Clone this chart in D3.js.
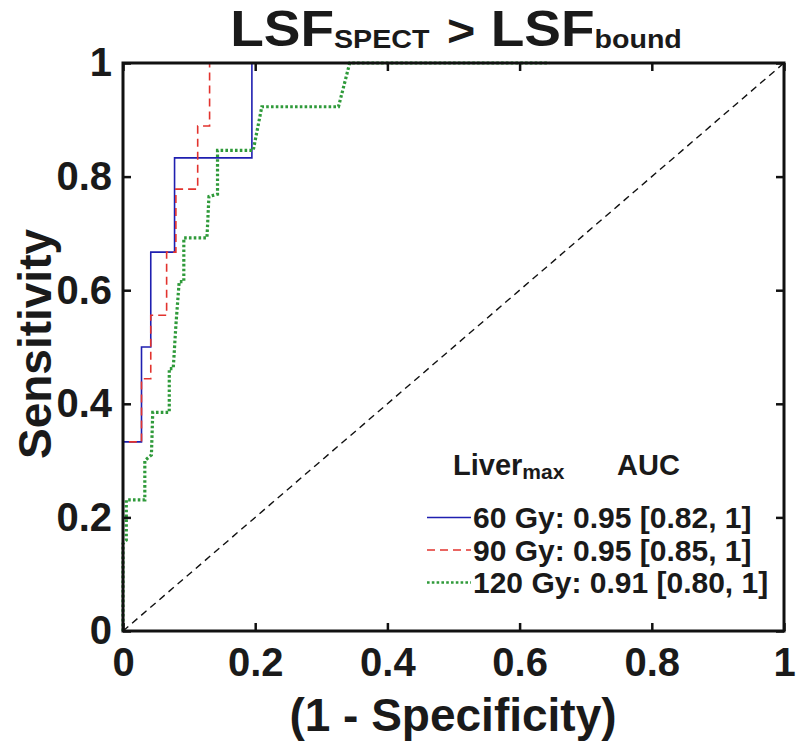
<!DOCTYPE html>
<html>
<head>
<meta charset="utf-8">
<script src="https://cdn.jsdelivr.net/npm/d3@7"></script>
<style>
  html, body { margin: 0; padding: 0; background: #fff; }
  svg { display: block; }
  text { font-family: "Liberation Sans", Arial, Helvetica, sans-serif; font-weight: bold; fill: #1a1a1a; }
</style>
</head>
<body>
<svg id="chart" width="800" height="748"></svg>
<script>
// ---- data ----
const tickValues = [0, 0.2, 0.4, 0.6, 0.8, 1];
const tickLabels = ["0", "0.2", "0.4", "0.6", "0.8", "1"];

const seriesNames = ["60 Gy", "90 Gy", "120 Gy"];
const aucLabels = ["0.95 [0.82, 1]", "0.95 [0.85, 1]", "0.91 [0.80, 1]"];

const fpr60 = [0, 0, 0.028, 0.028, 0.042, 0.042, 0.078, 0.078, 0.195, 0.195, 1];
const tpr60 = [0, 0.333, 0.333, 0.5, 0.5, 0.667, 0.667, 0.833, 0.833, 1, 1];

const fpr90 = [0, 0, 0.028, 0.028, 0.042, 0.042, 0.066, 0.066, 0.080, 0.080, 0.113, 0.113, 0.131, 0.131, 1];
const tpr90 = [0, 0.333, 0.333, 0.444, 0.444, 0.556, 0.556, 0.667, 0.667, 0.778, 0.778, 0.889, 0.889, 1, 1];

const fpr120 = [0, 0, 0.005, 0.005, 0.033, 0.033, 0.043, 0.045, 0.070, 0.070, 0.076, 0.080, 0.085, 0.092, 0.092, 0.127, 0.130, 0.143, 0.143, 0.197, 0.210, 0.326, 0.343, 0.645];
const tpr120 = [0, 0.154, 0.160, 0.231, 0.231, 0.300, 0.310, 0.385, 0.385, 0.462, 0.462, 0.538, 0.615, 0.615, 0.692, 0.692, 0.765, 0.769, 0.846, 0.846, 0.923, 0.923, 1, 1];

const chanceX = [0, 1];
const chanceY = [0, 1];

// ---- layout ----
const svg = d3.select("#chart");
const L = 123, R = 784, T = 63, B = 631;
const x = d3.scaleLinear().domain([0, 1]).range([L, R]);
const y = d3.scaleLinear().domain([0, 1]).range([B, T]);

const styles = [
  { color: "#1f1fb0", width: 1.6, dash: null },
  { color: "#e2332e", width: 1.6, dash: "8,5" },
  { color: "#2f9a3a", width: 3.2, dash: "2.6,2.2" }
];
const series = [
  fpr60.map((v, i) => [v, tpr60[i]]),
  fpr90.map((v, i) => [v, tpr90[i]]),
  fpr120.map((v, i) => [v, tpr120[i]])
];

const line = d3.line().x(d => x(d[0])).y(d => y(d[1]));

// chance line
svg.append("path")
  .datum(chanceX.map((v, i) => [v, chanceY[i]]))
  .attr("d", line)
  .attr("fill", "none")
  .attr("stroke", "#111")
  .attr("stroke-width", 1.4)
  .attr("stroke-dasharray", "7,5");

series.forEach((s, i) => {
  const p = svg.append("path")
    .datum(s)
    .attr("d", line)
    .attr("fill", "none")
    .attr("stroke", styles[i].color)
    .attr("stroke-width", styles[i].width);
  if (styles[i].dash) p.attr("stroke-dasharray", styles[i].dash);
});

// axes
const fmt = (d) => tickLabels[tickValues.indexOf(d)];
const tickLen = 8;

const gx = svg.append("g").attr("transform", `translate(0,${B})`)
  .call(d3.axisBottom(x).tickValues(tickValues).tickFormat(fmt).tickSize(-tickLen).tickSizeOuter(0).tickPadding(17));
const gy = svg.append("g").attr("transform", `translate(${L},0)`)
  .call(d3.axisLeft(y).tickValues(tickValues).tickFormat(fmt).tickSize(-tickLen).tickSizeOuter(0).tickPadding(11));
const gt = svg.append("g").attr("transform", `translate(0,${T})`)
  .call(d3.axisTop(x).tickValues(tickValues).tickFormat("").tickSize(-tickLen).tickSizeOuter(0));
const gr = svg.append("g").attr("transform", `translate(${R},0)`)
  .call(d3.axisRight(y).tickValues(tickValues).tickFormat("").tickSize(-tickLen).tickSizeOuter(0));

[gx, gy, gt, gr].forEach(g => {
  g.select(".domain").remove();
  g.selectAll(".tick line").attr("stroke", "#111").attr("stroke-width", 2.5);
  g.selectAll(".tick text")
    .style("font-family", '"Liberation Sans", Arial, sans-serif')
    .style("font-weight", "bold")
    .style("font-size", "40px")
    .attr("fill", "#1a1a1a");
});
svg.append("rect")
  .attr("x", L).attr("y", T).attr("width", R - L).attr("height", B - T)
  .attr("fill", "none").attr("stroke", "#111").attr("stroke-width", 3);

// title
const title = svg.append("text")
  .attr("transform", "translate(456,46) scale(1.1,1)")
  .attr("text-anchor", "middle");
title.append("tspan").style("font-size", "50px").text("LSF");
title.append("tspan").style("font-size", "26px").attr("dy", 2).text("SPECT");
title.append("tspan").style("font-size", "44px").attr("dy", -2).attr("dx", 16).text(">");
title.append("tspan").style("font-size", "50px").attr("dx", 14).text("LSF");
title.append("tspan").style("font-size", "26px").attr("dy", 2).text("bound");

// axis labels
svg.append("text")
  .attr("x", 453).attr("y", 731)
  .attr("text-anchor", "middle")
  .style("font-size", "46px")
  .text("(1 - Specificity)");

svg.append("text")
  .attr("transform", "translate(51,344) rotate(-90)")
  .attr("text-anchor", "middle")
  .style("font-size", "46px")
  .text("Sensitivity");

// legend
const hdr = svg.append("text").attr("x", 453).attr("y", 475).style("font-size", "29px");
hdr.append("tspan").text("Liver");
hdr.append("tspan").attr("dy", 4).style("font-size", "21px").text("max");
svg.append("text").attr("x", 617).attr("y", 475).style("font-size", "29px").text("AUC");

const rowBase = [528, 560.5, 593];
seriesNames.forEach((n, i) => {
  const ly = rowBase[i] - 10.5;
  const p = svg.append("line")
    .attr("x1", 427).attr("x2", 471).attr("y1", ly).attr("y2", ly)
    .attr("stroke", styles[i].color)
    .attr("stroke-width", i === 2 ? 2.6 : 1.6);
  if (styles[i].dash) p.attr("stroke-dasharray", styles[i].dash);
  svg.append("text")
    .attr("x", 473).attr("y", rowBase[i])
    .style("font-size", "30px")
    .text(`${n}: ${aucLabels[i]}`);
});
</script>
</body>
</html>
